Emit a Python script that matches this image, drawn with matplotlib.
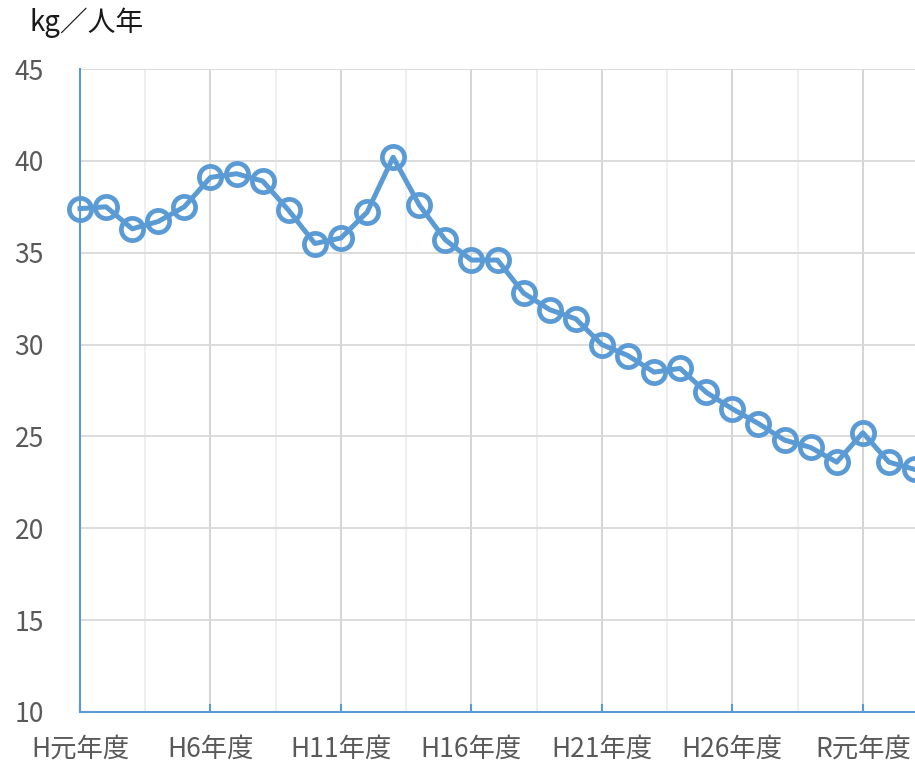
import matplotlib
matplotlib.use('Agg')
import matplotlib.pyplot as plt
import numpy as np

plt.rcParams['font.family'] = ['Noto Sans CJK JP', 'DejaVu Sans']

# fiscal years H1 .. R3 (33 points)
years = ['H元年度', 'H2年度', 'H3年度', 'H4年度', 'H5年度', 'H6年度', 'H7年度', 'H8年度',
         'H9年度', 'H10年度', 'H11年度', 'H12年度', 'H13年度', 'H14年度', 'H15年度',
         'H16年度', 'H17年度', 'H18年度', 'H19年度', 'H20年度', 'H21年度', 'H22年度',
         'H23年度', 'H24年度', 'H25年度', 'H26年度', 'H27年度', 'H28年度', 'H29年度',
         'H30年度', 'R元年度', 'R2年度', 'R3年度']
values = [37.4, 37.5, 36.3, 36.7, 37.5, 39.1, 39.3, 38.9, 37.3, 35.5, 35.8, 37.2,
          40.2, 37.6, 35.7, 34.6, 34.6, 32.8, 31.9, 31.4, 30.0, 29.4, 28.5, 28.7,
          27.4, 26.5, 25.7, 24.8, 24.4, 23.6, 25.2, 23.6, 23.2]
tick_labels = ['H元年度', 'H6年度', 'H11年度', 'H16年度', 'H21年度', 'H26年度', 'R元年度']

blue = '#5B9BD5'
grey_txt = '#595959'

fig = plt.figure(figsize=(9.15, 7.61), dpi=100)
ax = fig.add_axes([80/915, 49/761, 835/915, 643/761])

x = np.arange(len(values))
ax.plot(x, values, color=blue, linewidth=3.6, marker='o', markersize=16,
        markerfacecolor='none', markeredgecolor=blue, markeredgewidth=3.4,
        clip_on=False, zorder=3)

major = np.arange(0, len(values), 5)
minor = major + 2.5
minor = minor[minor < len(values) - 1]
ax.set_xticks(major)
ax.set_xticklabels(tick_labels)
ax.set_xticks(minor, minor=True)
ax.set_yticks(np.arange(10, 46, 5))

ax.set_xlim(0, len(values) - 1)
ax.set_ylim(10, 45)

ax.grid(axis='y', color='#d9d9d9', linewidth=1.3)
ax.grid(axis='x', which='major', color='#d4d4d4', linewidth=1.4)
ax.grid(axis='x', which='minor', color='#eeeeee', linewidth=1.3)
ax.set_axisbelow(True)

for s in ['top', 'right']:
    ax.spines[s].set_visible(False)
for s in ['left', 'bottom']:
    ax.spines[s].set_color(blue)
    ax.spines[s].set_linewidth(1.5)

ax.tick_params(axis='x', which='major', direction='in', length=6, width=1.5,
               color=blue, labelsize=19, labelcolor=grey_txt, pad=17)
ax.tick_params(axis='x', which='minor', length=0)
ax.tick_params(axis='y', length=0, labelsize=19, labelcolor=grey_txt, pad=26)

fig.text(30/915, 1 - 23/761, 'kg／人年', fontsize=20, color='#1a1a1a', va='center', ha='left')

fig.savefig('out.png', dpi=100)
